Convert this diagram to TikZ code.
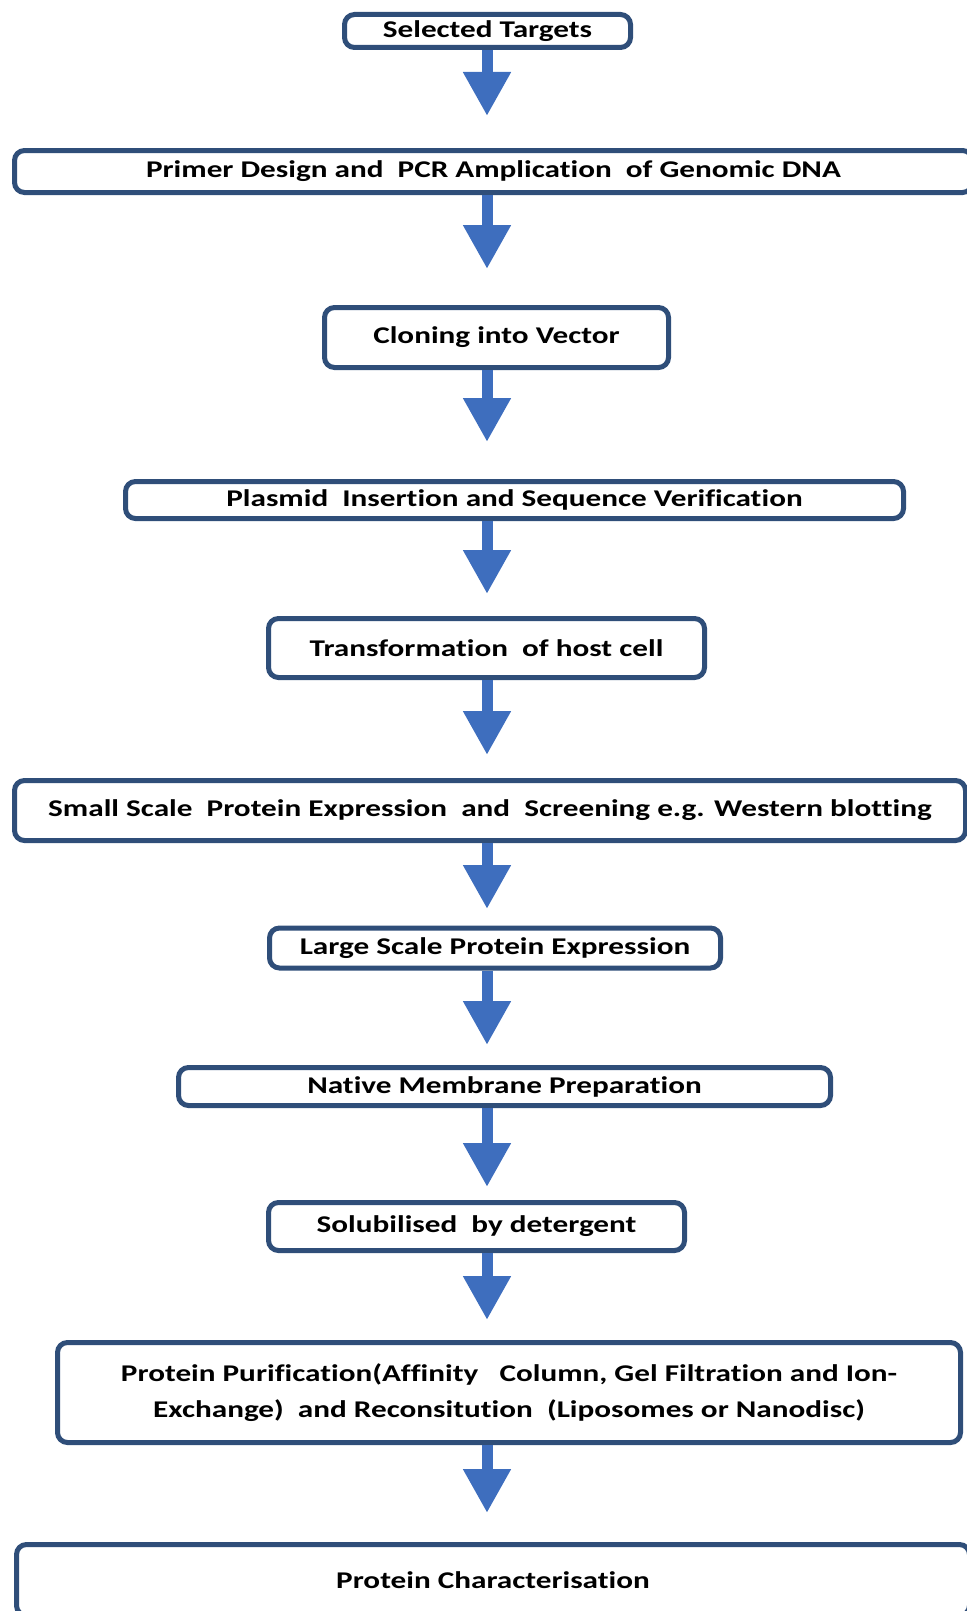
\documentclass[tikz,border=0pt]{standalone}
\usepackage{fontspec}
\setmainfont{Carlito}[FakeStretch=1.3, Ligatures=NoCommon]
\usetikzlibrary{arrows.meta}
\definecolor{boxline}{RGB}{47,78,121}
\definecolor{flowblue}{RGB}{62,110,190}
\tikzstyle{stage} = [draw=boxline, line width=2.5pt, rounded corners=5pt, fill=white, inner sep=0pt, align=center]
\tikzstyle{flow} = [draw=flowblue, line width=5.5pt, -{Triangle[width=22.5pt,length=22pt]}]
\tikzstyle{every node}=[font=\bfseries\fontsize{12}{18}\selectfont]

\begin{document}
\begin{tikzpicture}[x=0.5pt, y=-0.5pt]
  \useasboundingbox (0,0) rectangle (967,1611);

  \node[stage, minimum width=143pt, minimum height=16.5pt] (sel) at (487.5,31) {Selected Targets};
  \node[stage, minimum width=479pt, minimum height=21pt] (pcr) at (493.5,171.5) {Primer Design and \ PCR Amplication \ of Genomic DNA};
  \node[stage, minimum width=172pt, minimum height=30pt] (clon) at (496.5,337.5) {Cloning into Vector};
  \node[stage, minimum width=389pt, minimum height=18.5pt] (plas) at (514.5,500) {Plasmid \ Insertion and Sequence Verification};
  \node[stage, minimum width=218pt, minimum height=29.5pt] (trans) at (486.5,648) {Transformation \ of host cell};
  \node[stage, minimum width=475.5pt, minimum height=30pt] (small) at (490,810.5) {Small Scale \ Protein Expression \ and \ Screening e.g. Western blotting};
  \node[stage, minimum width=225.5pt, minimum height=20pt] (large) at (495,948) {Large Scale Protein Expression};
  \node[stage, minimum width=326pt, minimum height=19pt] (memb) at (504.5,1086.5) {Native Membrane Preparation};
  \node[stage, minimum width=208pt, minimum height=24pt] (solu) at (476.5,1226.5) {Solubilised \ by detergent};
  \node[stage, minimum width=451.5pt, minimum height=50pt] (puri) at (509,1392.5) {Protein Purification(Affinity \ \ Column, Gel Filtration and Ion-\\Exchange) \ and Reconsitution \ (Liposomes or Nanodisc)};
  \node[stage, minimum width=476.5pt, minimum height=35.5pt] (char) at (493,1580) {Protein Characterisation};

  \coordinate (t1) at (487,116);
  \coordinate (t2) at (487,269);
  \coordinate (t3) at (487,442);
  \coordinate (t4) at (487,594);
  \coordinate (t5) at (487,755);
  \coordinate (t6) at (487,909);
  \coordinate (t7) at (487,1045);
  \coordinate (t8) at (487,1187);
  \coordinate (t9) at (487,1320);
  \coordinate (t10) at (487,1513);

  \draw[flow] (sel.south -| t1) -- (t1);
  \draw[flow] (pcr.south -| t2) -- (t2);
  \draw[flow] (clon.south -| t3) -- (t3);
  \draw[flow] (plas.south -| t4) -- (t4);
  \draw[flow] (trans.south -| t5) -- (t5);
  \draw[flow] (small.south -| t6) -- (t6);
  \draw[flow] (large.south -| t7) -- (t7);
  \draw[flow] (memb.south -| t8) -- (t8);
  \draw[flow] (solu.south -| t9) -- (t9);
  \draw[flow] (puri.south -| t10) -- (t10);
\end{tikzpicture}
\end{document}
